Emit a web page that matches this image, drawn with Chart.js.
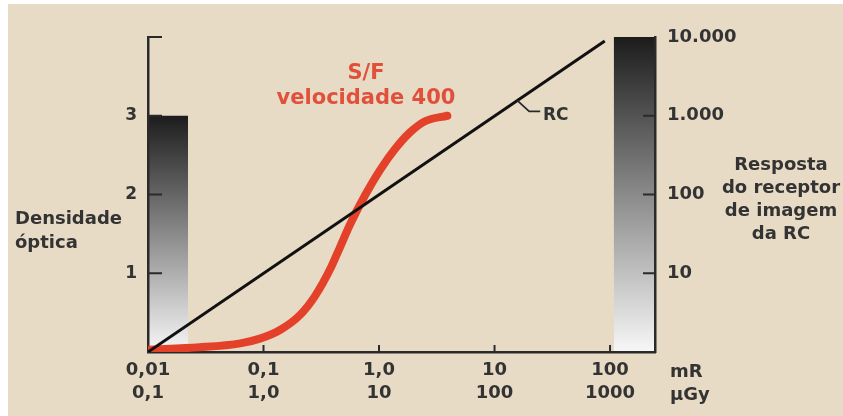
<!DOCTYPE html>
<html>
<head>
<meta charset="utf-8">
<script src="https://cdn.jsdelivr.net/npm/chart.js@4.4.1/dist/chart.umd.min.js"></script>
<style>
  html, body { margin: 0; padding: 0; background: #fff; overflow: hidden; }
  #wrap { position: relative; width: 843px; height: 416px; }
  #paper { position: absolute; left: 8px; top: 4px; right: 0; bottom: 0; background: #e8dbc6; }
  canvas { position: absolute; left: 0; top: 0; }
  .lbl { position: absolute; font-family: "DejaVu Sans", sans-serif; font-weight: bold; color: #333; white-space: nowrap; line-height: 1; }
  .red { color: #e0503a; font-size: 21px; }
</style>
</head>
<body>
<div id="wrap">
  <div id="paper"></div>
  <canvas id="chart" width="843" height="416"></canvas>
  <div class="lbl" style="left:15px; top:206px; font-size:18px; line-height:24px;">Densidade<br>óptica</div>
  <div class="lbl" style="left:701px; top:152px; width:160px; text-align:center; font-size:18px; line-height:23px;">Resposta<br>do receptor<br>de imagem<br>da RC</div>
  <div class="lbl" style="left:670px; top:359px; font-size:18px; line-height:23px;">mR<br>µGy</div>
  <div class="lbl red" style="left:261px; top:62px; width:210px; text-align:center;">S/F</div>
  <div class="lbl red" style="left:261px; top:87px; width:210px; text-align:center;">velocidade 400</div>
  <div class="lbl" style="left:543px; top:106px; font-size:17px;">RC</div>
</div>
<script>
// exposure (mR) and the two response curves
var xTicks = [0.01, 0.1, 1, 10, 100];
var xLabelsMR = ["0,01", "0,1", "1,0", "10", "100"];
var xLabelsUGy = ["0,1", "1,0", "10", "100", "1000"];

var densityTicks = [1, 2, 3];
var responseTicks = [10, 100, 1000, 10000];
var responseLabels = ["10", "100", "1.000", "10.000"];

var rcX = [0.01, 90];
var rcY = [0, 3.95];

var sfX = [0.01, 0.028, 0.063, 0.093, 0.139, 0.207, 0.279, 0.377, 0.459, 0.561, 0.757, 1.02, 1.38, 1.86, 2.5, 3.9];
var sfY = [0.03, 0.06, 0.11, 0.17, 0.28, 0.47, 0.71, 1.05, 1.33, 1.62, 1.99, 2.31, 2.58, 2.79, 2.93, 3.00];

var axisColor = "#2a2a2a";
var textColor = "#333";

function toPoints(xs, ys) {
  return xs.map(function (v, i) { return { x: v, y: ys[i] }; });
}

function greyRamp(ctx, top, bottom) {
  var g = ctx.createLinearGradient(0, top, 0, bottom);
  g.addColorStop(0, "#1c1c1c");
  g.addColorStop(0.5, "#8a8a8a");
  g.addColorStop(1, "#f7f7f7");
  return g;
}

// grey step wedges behind the axes
var wedges = {
  id: "wedges",
  beforeDraw: function (chart) {
    var ctx = chart.ctx, x = chart.scales.x, y = chart.scales.y, y2 = chart.scales.y2;
    ctx.save();
    var l = x.getPixelForValue(0.01), r = x.getPixelForValue(0.0222);
    var t = y.getPixelForValue(3), b = y.getPixelForValue(0);
    ctx.fillStyle = greyRamp(ctx, t, b);
    ctx.fillRect(l, t, r - l, b - t);
    l = x.getPixelForValue(108); r = x.right;
    t = y2.getPixelForValue(10000); b = y2.getPixelForValue(1);
    ctx.fillStyle = greyRamp(ctx, t, b);
    ctx.fillRect(l, t, r - l, b - t);
    ctx.restore();
  }
};

// ticks drawn inward, plus the RC leader
var inwardTicks = {
  id: "inwardTicks",
  afterDatasetsDraw: function (chart) {
    var ctx = chart.ctx, x = chart.scales.x, y = chart.scales.y, y2 = chart.scales.y2;
    function seg(x1, y1, x2, y2_) { ctx.beginPath(); ctx.moveTo(x1, y1); ctx.lineTo(x2, y2_); ctx.stroke(); }
    ctx.save();
    ctx.strokeStyle = axisColor;
    ctx.lineWidth = 2;
    xTicks.slice(1).forEach(function (v) {
      var px = x.getPixelForValue(v);
      seg(px, x.top, px, x.top - 7);
    });
    [1, 2, 3, 4].forEach(function (v) {
      var py = y.getPixelForValue(v);
      seg(y.right, py, y.right + 14, py);
    });
    [10, 100, 1000].forEach(function (v) {
      var py = y2.getPixelForValue(v);
      seg(y2.left, py, y2.left - 12, py);
    });
    var lx = x.getPixelForValue(15.7), ly = y.getPixelForValue(Math.log10(15.7) + 2);
    ctx.lineWidth = 1.8;
    ctx.beginPath();
    ctx.moveTo(lx, ly);
    ctx.lineTo(lx + 12, ly + 11);
    ctx.lineTo(lx + 23, ly + 11);
    ctx.stroke();
    ctx.restore();
  }
};

var tickFont = { family: "DejaVu Sans", size: 18, weight: "bold", lineHeight: 23 / 18 };

new Chart(document.getElementById("chart"), {
  type: "scatter",
  data: {
    datasets: [{
      label: "RC",
      data: toPoints(rcX, rcY),
      showLine: true,
      borderColor: "#111",
      borderWidth: 3,
      pointRadius: 0,
      yAxisID: "y"
    }, {
      label: "S/F velocidade 400",
      data: toPoints(sfX, sfY),
      showLine: true,
      borderColor: "#e4412b",
      borderWidth: 8,
      borderCapStyle: "round",
      borderJoinStyle: "round",
      cubicInterpolationMode: "monotone",
      pointRadius: 0,
      yAxisID: "y"
    }]
  },
  options: {
    responsive: false,
    animation: false,
    events: [],
    layout: { padding: { left: 108, right: 88, top: 37, bottom: 4 } },
    plugins: { legend: { display: false }, tooltip: { enabled: false } },
    scales: {
      x: {
        type: "logarithmic",
        position: "bottom",
        min: 0.01,
        max: 245,
        border: { color: axisColor, width: 2.5 },
        grid: { display: false, drawTicks: false },
        afterBuildTicks: function (s) { s.ticks = xTicks.map(function (v) { return { value: v }; }); },
        afterFit: function (s) { s.height = 60; },
        ticks: {
          autoSkip: false,
          maxRotation: 0,
          padding: 7,
          color: textColor,
          font: tickFont,
          callback: function (v, i) { return [xLabelsMR[i], xLabelsUGy[i]]; }
        }
      },
      y: {
        type: "linear",
        position: "left",
        min: 0,
        max: 4,
        border: { color: axisColor, width: 2.5 },
        grid: { display: false, drawTicks: false },
        afterBuildTicks: function (s) { s.ticks = densityTicks.map(function (v) { return { value: v }; }); },
        afterFit: function (s) { s.width = 40; },
        ticks: { padding: 11, color: textColor, font: { family: "DejaVu Sans", size: 17, weight: "bold" } }
      },
      y2: {
        type: "logarithmic",
        position: "right",
        min: 1,
        max: 10000,
        border: { color: axisColor, width: 2.5 },
        grid: { display: false, drawTicks: false },
        afterBuildTicks: function (s) { s.ticks = responseTicks.map(function (v) { return { value: v }; }); },
        afterFit: function (s) { s.width = 100; },
        ticks: {
          padding: 12,
          color: textColor,
          font: { family: "DejaVu Sans", size: 18, weight: "bold" },
          callback: function (v, i) { return responseLabels[i]; }
        }
      }
    }
  },
  plugins: [wedges, inwardTicks]
});
</script>
</body>
</html>
